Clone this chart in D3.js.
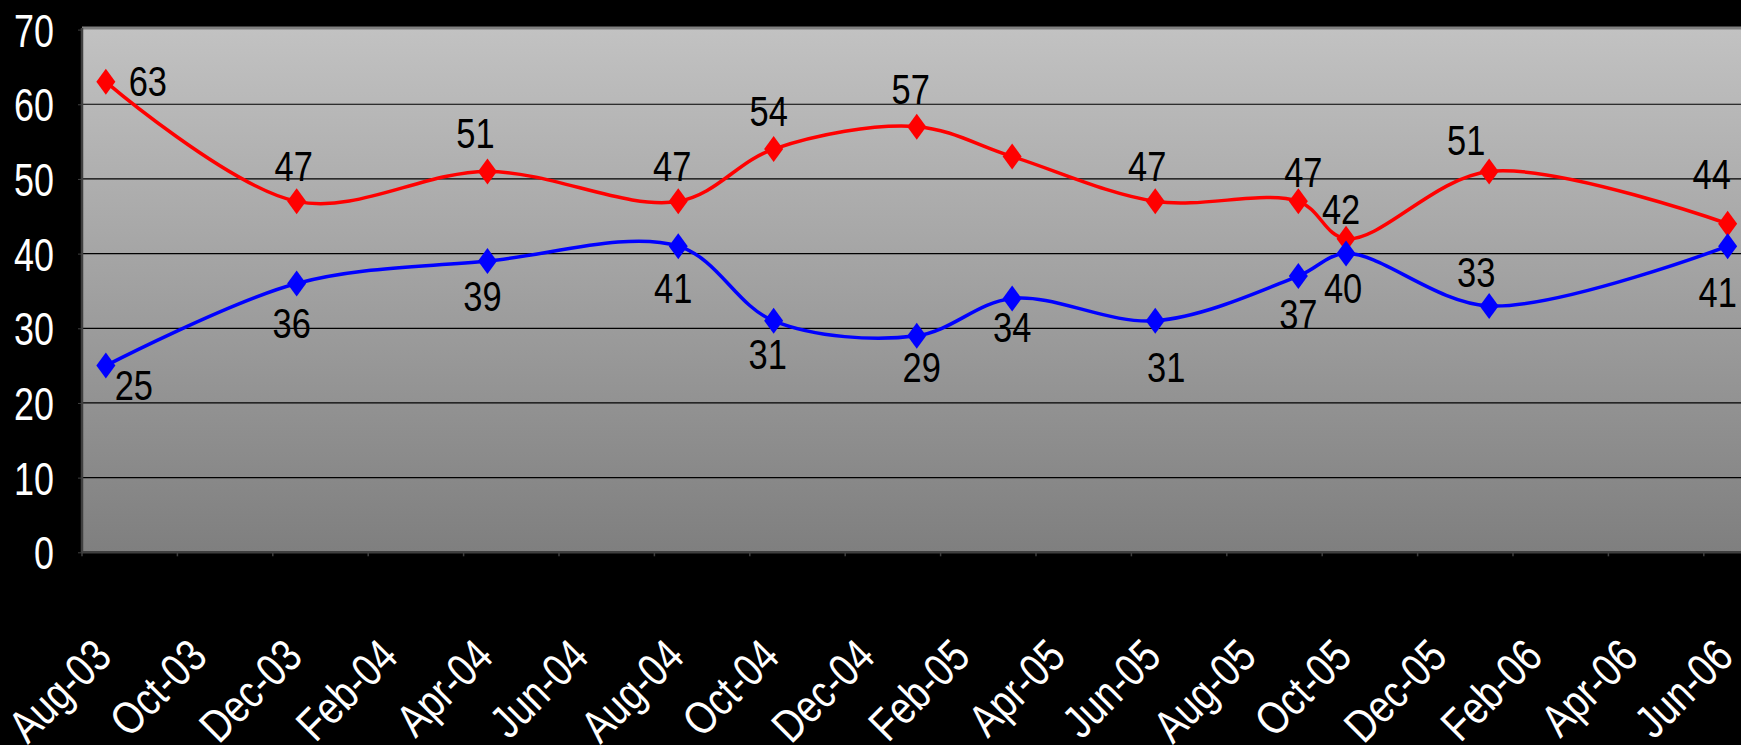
<!DOCTYPE html>
<html>
<head>
<meta charset="utf-8">
<script src="https://cdn.jsdelivr.net/npm/d3@7"></script>
<style>
  html, body { margin: 0; padding: 0; background: #000; }
  svg { display: block; }
  text { font-family: "Liberation Sans", Arial, sans-serif; }
  .y-label { fill: #fff; font-size: 46px; }
  .x-label { fill: #fff; font-size: 46px; }
  .value-label { fill: #000; font-size: 42px; }
</style>
</head>
<body>
<svg id="chart"></svg>
<script>
// every month on the date axis (one band per month)
const months = [
  'Aug-03', 'Sep-03', 'Oct-03', 'Nov-03', 'Dec-03',
  'Jan-04', 'Feb-04', 'Mar-04', 'Apr-04', 'May-04', 'Jun-04', 'Jul-04', 'Aug-04', 'Sep-04', 'Oct-04', 'Nov-04', 'Dec-04',
  'Jan-05', 'Feb-05', 'Mar-05', 'Apr-05', 'May-05', 'Jun-05', 'Jul-05', 'Aug-05', 'Sep-05', 'Oct-05', 'Nov-05', 'Dec-05',
  'Jan-06', 'Feb-06', 'Mar-06', 'Apr-06', 'May-06', 'Jun-06'
];

// axis labels shown, every second month
const tickLabels = [
  'Aug-03', 'Oct-03', 'Dec-03', 'Feb-04', 'Apr-04', 'Jun-04', 'Aug-04', 'Oct-04', 'Dec-04',
  'Feb-05', 'Apr-05', 'Jun-05', 'Aug-05', 'Oct-05', 'Dec-05', 'Feb-06', 'Apr-06', 'Jun-06'
];

const yTicks = [0, 10, 20, 30, 40, 50, 60, 70];

// months with a poll
const pollMonths = ['Aug-03', 'Dec-03', 'Apr-04', 'Aug-04', 'Oct-04', 'Jan-05', 'Mar-05', 'Jun-05', 'Sep-05', 'Oct-05', 'Jan-06', 'Jun-06'];

const redValues  = [63, 47, 51, 47, 54, 57, 53, 47, 47, 42, 51, 44];
const blueValues = [25, 36, 39, 41, 31, 29, 34, 31, 37, 40, 33, 41];

// where each value label sits relative to its marker: [dx, baseline dy], null = no label
const redLabelOffsets = [
  [42, 14], [-3, -20], [-12, -23], [-6, -20], [-5, -23], [-6, -23],
  null, [-8, -20], [5, -14], [-5, -15], [-23, -16], [-16, -35]
];
const blueLabelOffsets = [
  [28, 34], [-5, 55], [-5, 50], [-5, 57], [-6, 48], [5, 46],
  [0, 44], [11, 61], [0, 53], [-3, 49], [-13, -19], [-10, 61]
];

const width = 1741;
const height = 745;

// the reference font is a narrow face: squeeze a regular one
const narrow = 'scale(0.82,1)';
const narrowAxis = 'scale(0.78,1)';

const plotBox = {
  left: 82,
  right: 1751.5,
  top: 28,
  bottom: 552.3
};

const colors = {
  red: '#ff0000',
  blue: '#0000ff',
  axis: '#404040',
  border: '#808080'
};

const svg = d3.select('#chart')
  .attr('width', width)
  .attr('height', height)
  .style('background', '#000');

const defs = svg.append('defs');

/*
 * scales: one band per month, points in the middle of their month
 */
const x = d3.scaleBand()
  .domain(months)
  .range([plotBox.left, plotBox.right])
  .padding(0);

const y = d3.scaleLinear()
  .domain([0, 70])
  .range([plotBox.bottom, 29.6]);

const xMid = m => x(m) + x.bandwidth() / 2;

drawBackground();
drawGrid();
drawAxes();
drawSeries(redValues, colors.red, redLabelOffsets);
drawSeries(blueValues, colors.blue, blueLabelOffsets);

/*
 * gray gradient plot area with its frame
 */
function drawBackground() {
  const grad = defs.append('linearGradient')
    .attr('id', 'plot-fill')
    .attr('x1', 0).attr('y1', 0)
    .attr('x2', 0).attr('y2', 1);
  grad.append('stop').attr('offset', '0%').attr('stop-color', '#c2c2c2');
  grad.append('stop').attr('offset', '100%').attr('stop-color', '#7f7f7f');

  svg.append('rect')
    .attr('x', plotBox.left)
    .attr('y', plotBox.top)
    .attr('width', plotBox.right - plotBox.left)
    .attr('height', plotBox.bottom - plotBox.top)
    .attr('fill', 'url(#plot-fill)');

  // top frame edge
  svg.append('line')
    .attr('x1', plotBox.left).attr('x2', plotBox.right)
    .attr('y1', plotBox.top).attr('y2', plotBox.top)
    .attr('stroke', colors.border)
    .attr('stroke-width', 3);
}

function drawGrid() {
  svg.append('g')
    .attr('id', 'grid')
    .selectAll('line')
    .data(yTicks.filter(d => d > 0 && d < 70))
    .enter()
    .append('line')
    .attr('x1', plotBox.left).attr('x2', plotBox.right)
    .attr('y1', d => y(d)).attr('y2', d => y(d))
    .attr('stroke', '#000')
    .attr('stroke-width', 1.2);
}

function drawAxes() {
  // y axis: labels on the left
  const yAxis = d3.axisLeft(y)
    .tickValues(yTicks)
    .tickSizeInner(4)
    .tickSizeOuter(0);

  const yGroup = svg.append('g')
    .attr('id', 'y-axis')
    .attr('transform', translate(plotBox.left, 0))
    .call(yAxis);

  yGroup.select('.domain')
    .attr('stroke', colors.axis)
    .attr('stroke-width', 2.5)
    .attr('d', 'M0,' + plotBox.top + 'V' + plotBox.bottom);
  yGroup.selectAll('.tick line').attr('stroke', colors.axis);
  yGroup.selectAll('.tick text')
    .attr('class', 'y-label')
    .attr('font-family', null)
    .attr('font-size', null)
    .attr('x', null)
    .attr('dy', '0.36em')
    .attr('transform', translate(-28, 0) + ' ' + narrowAxis);

  // x axis line with ticks at the start of every second month
  const xGroup = svg.append('g').attr('id', 'x-axis');

  xGroup.append('line')
    .attr('x1', plotBox.left).attr('x2', plotBox.right)
    .attr('y1', plotBox.bottom).attr('y2', plotBox.bottom)
    .attr('stroke', colors.axis)
    .attr('stroke-width', 2.5);

  xGroup.selectAll('.x-tick')
    .data(tickLabels)
    .enter()
    .append('line')
    .attr('class', 'x-tick')
    .attr('x1', d => x(d)).attr('x2', d => x(d))
    .attr('y1', plotBox.bottom).attr('y2', plotBox.bottom + 4)
    .attr('stroke', colors.axis)
    .attr('stroke-width', 1.5);

  // rotated labels, ending at the month centre
  xGroup.selectAll('.x-label')
    .data(tickLabels)
    .enter()
    .append('text')
    .attr('class', 'x-label')
    .attr('text-anchor', 'end')
    .attr('transform', d => translate(xMid(d) + 8, 659) + ' rotate(-45) ' + narrow)
    .text(d => d);
}

/*
 * smoothed line, diamond markers and value labels for one series
 */
function drawSeries(values, color, offsets) {
  const points = pollMonths.map((m, i) => ({ month: m, value: values[i], offset: offsets[i] }));

  const line = d3.line()
    .x(d => xMid(d.month))
    .y(d => y(d.value))
    .curve(d3.curveCatmullRom.alpha(0.5));

  const group = svg.append('g');

  group.append('path')
    .datum(points)
    .attr('d', line)
    .attr('fill', 'none')
    .attr('stroke', color)
    .attr('stroke-width', 3.5)
    .attr('stroke-linejoin', 'round');

  group.selectAll('.marker')
    .data(points)
    .enter()
    .append('path')
    .attr('class', 'marker')
    .attr('d', 'M0,-13L9.5,0L0,13L-9.5,0Z')
    .attr('transform', d => translate(xMid(d.month), y(d.value)))
    .attr('fill', color);

  group.selectAll('.value-label')
    .data(points.filter(d => d.offset))
    .enter()
    .append('text')
    .attr('class', 'value-label')
    .attr('text-anchor', 'middle')
    .attr('transform', d => translate(xMid(d.month) + d.offset[0], y(d.value) + d.offset[1]) + ' ' + narrow)
    .text(d => d.value);
}

function translate(x, y) {
  return 'translate(' + String(x) + ',' + String(y) + ')';
}
</script>
</body>
</html>
